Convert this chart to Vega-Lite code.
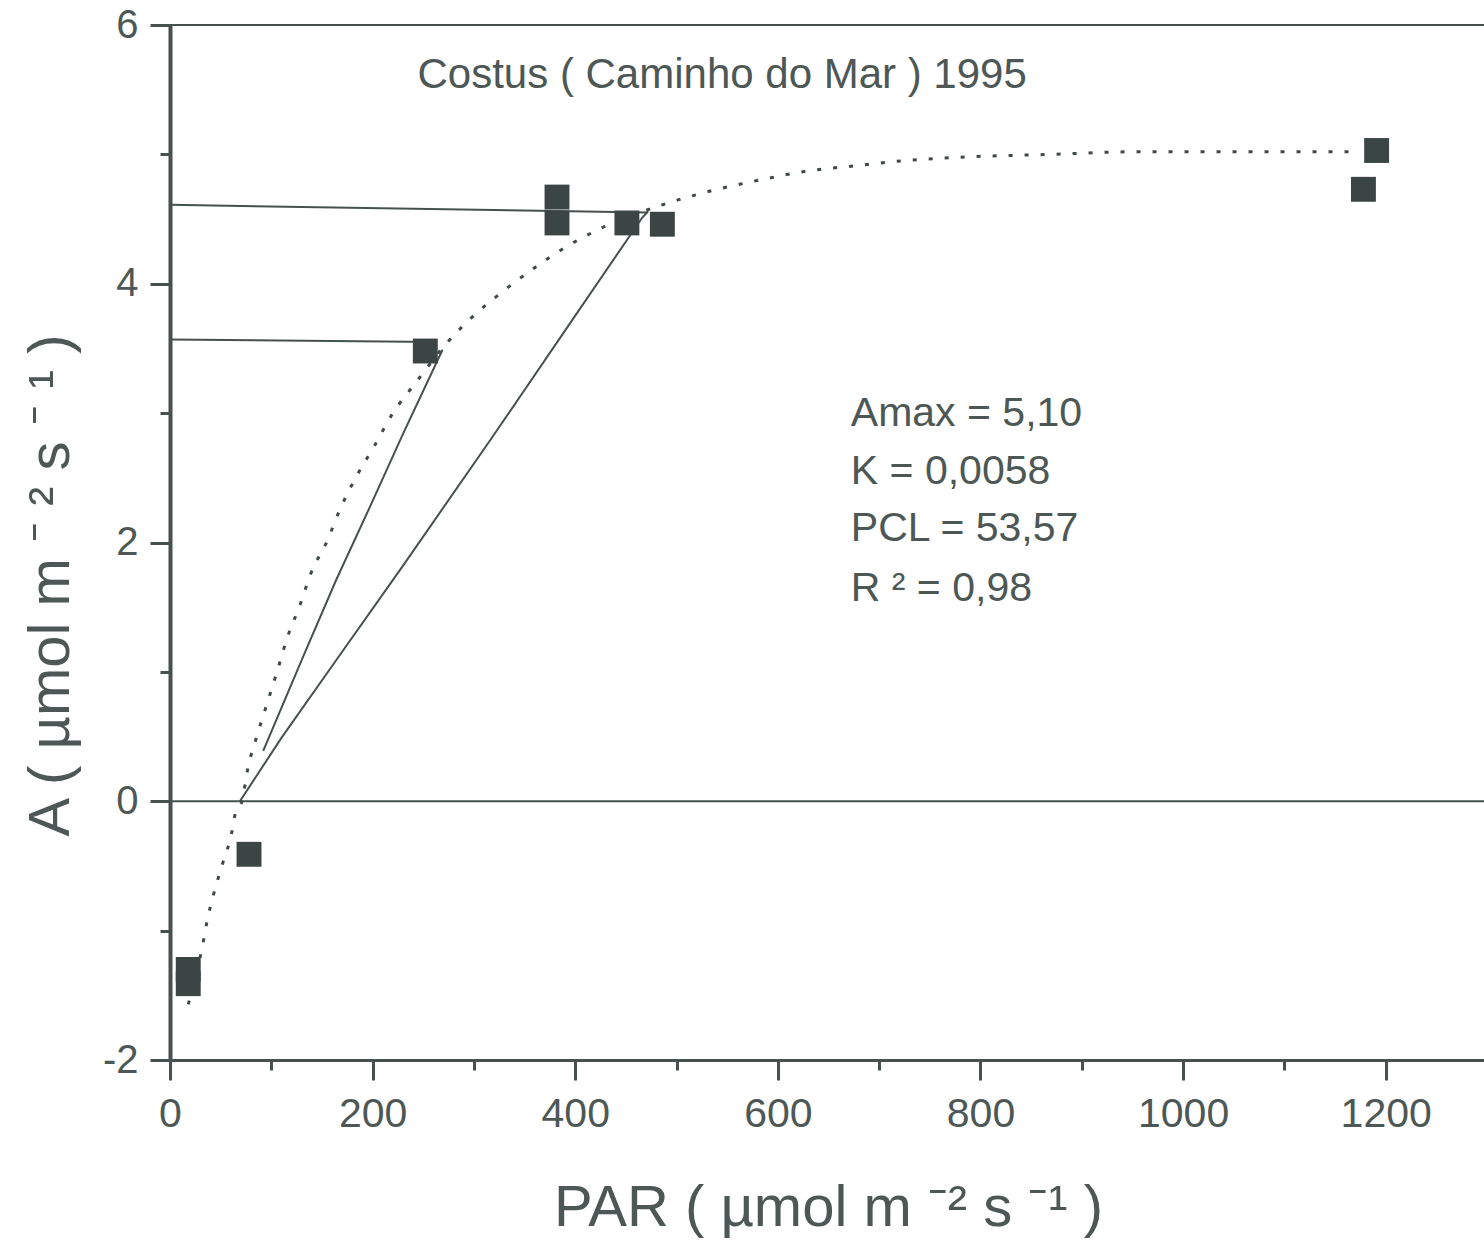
{
  "$schema": "https://vega.github.io/schema/vega-lite/v6.json",
  "autosize": {"type": "none"},
  "padding": {"left": 170, "top": 25, "right": 0, "bottom": 187},
  "width": 1314,
  "height": 1035,
  "background": "white",
  "config": {"view": {"stroke": null}, "font": "Liberation Sans"},
  "datasets": {
    "points": [
      {"par": 18, "a": -1.30}, {"par": 18, "a": -1.41}, {"par": 78, "a": -0.41},
      {"par": 252, "a": 3.48}, {"par": 382, "a": 4.67}, {"par": 382, "a": 4.47},
      {"par": 451, "a": 4.47}, {"par": 486, "a": 4.46},
      {"par": 1178, "a": 4.73}, {"par": 1191, "a": 5.03}
    ],
    "curve": [
      {"par": 18, "a": -1.57}, {"par": 33, "a": -1.08}, {"par": 36, "a": -0.95},
      {"par": 43, "a": -0.72}, {"par": 52, "a": -0.48}, {"par": 61, "a": -0.24},
      {"par": 64, "a": -0.11}, {"par": 71, "a": 0.0}, {"par": 77, "a": 0.26},
      {"par": 86, "a": 0.51}, {"par": 96, "a": 0.76}, {"par": 106, "a": 1.01},
      {"par": 116, "a": 1.27}, {"par": 128, "a": 1.51}, {"par": 139, "a": 1.76},
      {"par": 155, "a": 2.01}, {"par": 168, "a": 2.26}, {"par": 184, "a": 2.51},
      {"par": 202, "a": 2.75}, {"par": 220, "a": 3.00}, {"par": 243, "a": 3.24},
      {"par": 273, "a": 3.54}, {"par": 298, "a": 3.74}, {"par": 330, "a": 3.95},
      {"par": 361, "a": 4.13}, {"par": 392, "a": 4.29}, {"par": 423, "a": 4.42},
      {"par": 486, "a": 4.61}, {"par": 535, "a": 4.72}, {"par": 581, "a": 4.80},
      {"par": 628, "a": 4.87}, {"par": 674, "a": 4.91}, {"par": 722, "a": 4.95},
      {"par": 786, "a": 4.98}, {"par": 870, "a": 5.00}, {"par": 950, "a": 5.02},
      {"par": 1060, "a": 5.02}, {"par": 1175, "a": 5.02}
    ],
    "lines": [
      {"seg": "top", "ord": 1, "par": 0, "a": 6},
      {"seg": "top", "ord": 2, "par": 1297, "a": 6},
      {"seg": "zero", "ord": 1, "par": 0, "a": 0},
      {"seg": "zero", "ord": 2, "par": 1297, "a": 0},
      {"seg": "h1", "ord": 1, "par": 0, "a": 4.61},
      {"seg": "h1", "ord": 2, "par": 471, "a": 4.55},
      {"seg": "h2", "ord": 1, "par": 0, "a": 3.57},
      {"seg": "h2", "ord": 2, "par": 262, "a": 3.55},
      {"seg": "d1", "ord": 1, "par": 92, "a": 0.39},
      {"seg": "d1", "ord": 2, "par": 131, "a": 1.11},
      {"seg": "d1", "ord": 3, "par": 164, "a": 1.71},
      {"seg": "d1", "ord": 4, "par": 197, "a": 2.27},
      {"seg": "d1", "ord": 5, "par": 230, "a": 2.84},
      {"seg": "d1", "ord": 6, "par": 269, "a": 3.49},
      {"seg": "d2", "ord": 1, "par": 69, "a": 0.0},
      {"seg": "d2", "ord": 2, "par": 110, "a": 0.49},
      {"seg": "d2", "ord": 3, "par": 164, "a": 1.09},
      {"seg": "d2", "ord": 4, "par": 229, "a": 1.81},
      {"seg": "d2", "ord": 5, "par": 316, "a": 2.79},
      {"seg": "d2", "ord": 6, "par": 398, "a": 3.73},
      {"seg": "d2", "ord": 7, "par": 466, "a": 4.51},
      {"seg": "d2", "ord": 8, "par": 472, "a": 4.56}
    ],
    "title": [
      {"par": 545, "a": 5.51, "label": "Costus ( Caminho do Mar ) 1995"}
    ],
    "stats": [
      {"par": 672, "a": 2.90, "label": "Amax = 5,10"},
      {"par": 672, "a": 2.455, "label": "K = 0,0058"},
      {"par": 672, "a": 2.01, "label": "PCL = 53,57"},
      {"par": 672, "a": 1.55, "label": "R ² = 0,98"}
    ]
  },
  "encoding": {
    "x": {
      "field": "par", "type": "quantitative",
      "scale": {"domain": [0, 1297], "nice": false, "zero": false},
      "axis": {
        "title": "PAR ( µmol m ⁻² s ⁻¹ )",
        "values": [0, 100, 200, 300, 400, 500, 600, 700, 800, 900, 1000, 1100, 1200],
        "labelExpr": "datum.value % 200 === 0 ? '' + datum.value : ''",
        "tickSize": {"condition": {"test": "datum.value % 200 === 0", "value": 20}, "value": 10},
        "tickWidth": 3, "tickColor": "#46514f",
        "domainColor": "#46514f", "domainWidth": 3,
        "labelFontSize": 41, "labelColor": "#4d5856", "labelPadding": 14,
        "labelFlush": false, "labelOverlap": false,
        "grid": false,
        "titleFontSize": 58, "titleFontWeight": "normal", "titleColor": "#4d5856",
        "titleX": 658, "titleY": 165, "titleBaseline": "alphabetic", "titleAlign": "center"
      }
    },
    "y": {
      "field": "a", "type": "quantitative",
      "scale": {"domain": [-2, 6], "nice": false, "zero": false},
      "axis": {
        "title": "A ( µmol m ⁻ ² s ⁻ ¹ )",
        "values": [-2, -1, 0, 1, 2, 3, 4, 5, 6],
        "labelExpr": "datum.value % 2 === 0 ? '' + datum.value : ''",
        "tickSize": {"condition": {"test": "datum.value % 2 === 0", "value": 20}, "value": 10},
        "tickWidth": 3, "tickColor": "#46514f",
        "domainColor": "#46514f", "domainWidth": 4,
        "labelFontSize": 40, "labelColor": "#4d5856", "labelPadding": 12,
        "labelFlush": false, "labelOverlap": false,
        "grid": false,
        "titleFontSize": 58, "titleFontWeight": "normal", "titleColor": "#4d5856",
        "titleX": -102, "titleY": 560, "titleAngle": -90, "titleBaseline": "alphabetic", "titleAlign": "center"
      }
    }
  },
  "layer": [
    {
      "data": {"name": "lines"},
      "mark": {"type": "line", "color": "#46514f", "strokeWidth": 2},
      "encoding": {
        "detail": {"field": "seg", "type": "nominal"},
        "order": {"field": "ord", "type": "quantitative"},
        "strokeWidth": {"condition": {"test": "datum.seg === 'top' || datum.seg === 'zero'", "value": 3}, "value": 1.8}
      }
    },
    {
      "data": {"name": "curve"},
      "mark": {"type": "line", "color": "#3f4a48", "strokeWidth": 3, "strokeDash": [4, 12], "interpolate": "monotone"},
      "encoding": {}
    },
    {
      "data": {"name": "points"},
      "mark": {"type": "point", "shape": "square", "filled": true, "size": 620, "color": "#3b4644", "opacity": 1},
      "encoding": {}
    },
    {
      "data": {"name": "title"},
      "mark": {"type": "text", "fontSize": 42, "align": "center", "baseline": "alphabetic", "color": "#4d5856"},
      "encoding": {"text": {"field": "label"}}
    },
    {
      "data": {"name": "stats"},
      "mark": {"type": "text", "fontSize": 41, "align": "left", "baseline": "alphabetic", "color": "#4d5856"},
      "encoding": {"text": {"field": "label"}}
    }
  ]
}
